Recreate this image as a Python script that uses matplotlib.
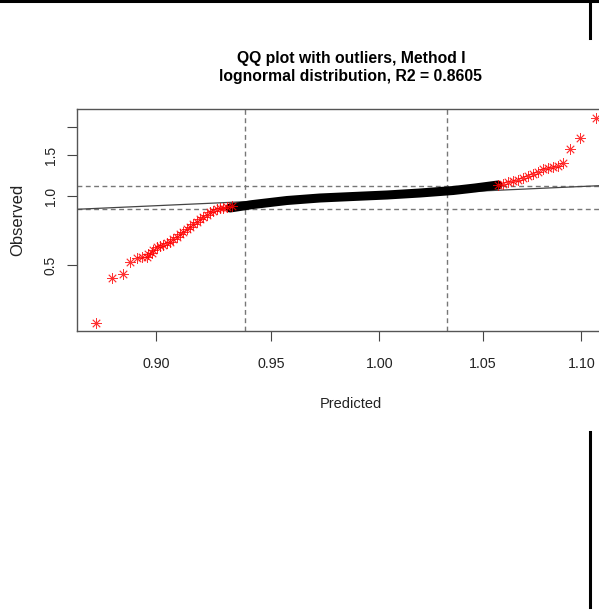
import matplotlib
matplotlib.use("Agg")
import matplotlib.pyplot as plt
from matplotlib.lines import Line2D

plt.rcParams['font.family'] = ['Liberation Sans', 'DejaVu Sans']

# === DATA ===
# lower tail outliers (red)
low_pred = [0.8748, 0.8815, 0.8859, 0.8889, 0.8917, 0.8938, 0.8960, 0.8965,
            0.8981, 0.8988, 0.9002, 0.9016, 0.9030, 0.9045, 0.9059, 0.9073,
            0.9087, 0.9102, 0.9116, 0.9130, 0.9145, 0.9159, 0.9174, 0.9188,
            0.9202, 0.9217, 0.9231, 0.9246, 0.9261, 0.9275, 0.9290, 0.9306,
            0.9326]
low_obs = [0.2800, 0.4391, 0.4584, 0.5184, 0.5396, 0.5450, 0.5450, 0.5599,
           0.5638, 0.5828, 0.6023, 0.6065, 0.6126, 0.6219, 0.6332, 0.6473,
           0.6657, 0.6839, 0.6998, 0.7189, 0.7357, 0.7558, 0.7734, 0.7945,
           0.8130, 0.8311, 0.8496, 0.8650, 0.8781, 0.8869, 0.8896, 0.8958,
           0.9048]

# bulk of the points (black band)
mid_pred = [0.9319, 0.9421, 0.9573, 0.9723, 0.9876, 1.0036, 1.0194, 1.0354,
            1.0462, 1.0576]
mid_obs = [0.8869, 0.9185, 0.9560, 0.9802, 0.9950, 1.0101, 1.0305, 1.0565,
           1.0833, 1.1163]

# upper tail outliers (red)
high_pred = [1.0577, 1.0602, 1.0628, 1.0653, 1.0678, 1.0703, 1.0728, 1.0754,
             1.0779, 1.0805, 1.0830, 1.0856, 1.0881, 1.0904, 1.0942, 1.0993,
             1.1077]
high_obs = [1.1163, 1.1309, 1.1468, 1.1618, 1.1770, 1.1936, 1.2177, 1.2423,
            1.2674, 1.3060, 1.3271, 1.3364, 1.3539, 1.3868, 1.5952, 1.7807,
            2.1881]

# fitted QQ line and outlier cut-offs
qq_line_pred = [0.8668, 1.1093]
qq_line_obs = [0.8755, 1.1085]
cut_pred = [0.9385, 1.0326]
cut_obs = [0.8755, 1.1085]

x_ticks = [0.90, 0.95, 1.00, 1.05, 1.10]
x_ticklabels = ["0.90", "0.95", "1.00", "1.05", "1.10"]
y_ticks = [0.5, 1.0, 1.5, 2.0]
y_ticklabels = ["0.5", "1.0", "1.5", ""]

# === FIGURE ===
W, H = 599, 614
fig = plt.figure(figsize=(W / 100, H / 100), dpi=100)
ax_l, ax_r, ax_t, ax_b = 76.7, 625, 109, 331
ax = fig.add_axes([ax_l / W, 1 - ax_b / H, (ax_r - ax_l) / W, (ax_b - ax_t) / H])
ax.set_xscale('log')
ax.set_yscale('log')
ax.set_xlim(0.86682, 1.12295)
ax.set_ylim(0.25924, 2.38691)

for v in cut_pred:
    ax.axvline(v, color='#777777', lw=1.0, dashes=(3.5, 2.5))
for h in cut_obs:
    ax.axhline(h, color='#777777', lw=1.0, dashes=(3.5, 2.5))

ax.axline((qq_line_pred[0], qq_line_obs[0]), (qq_line_pred[1], qq_line_obs[1]),
          color='#444444', lw=0.9)

ax.plot(mid_pred, mid_obs, color='black', lw=6.5, solid_capstyle='round')

star = (8, 2, 0)
for xs, ys in [(low_pred, low_obs), (high_pred, high_obs)]:
    ax.plot(xs, ys, ls='none', marker=star, ms=7.5, mew=0.6,
            color='#ff0000', alpha=0.8)

ax.set_xticks(x_ticks, x_ticklabels)
ax.set_yticks(y_ticks, y_ticklabels)
ax.minorticks_off()
ax.tick_params(axis='both', direction='out', length=7, width=0.8, colors='#444444')
ax.tick_params(axis='x', pad=11.5, labelsize=10.3, labelcolor='#222222')
ax.tick_params(axis='y', pad=6.5, labelsize=10, labelcolor='#222222', labelrotation=90)
for lab in ax.get_yticklabels():
    lab.set_va('center')

for sp in ax.spines.values():
    sp.set_color('#555555')
    sp.set_linewidth(1.0)

ax.set_xlabel('Predicted', fontsize=10.5, va='center', color='#222222')
ax.xaxis.set_label_coords(0.5, -(404 - ax_b) / (ax_b - ax_t))
ax.set_ylabel('Observed', fontsize=12, va='center', color='#222222')
ax.yaxis.set_label_coords(-(ax_l - 18) / (ax_r - ax_l), 0.5)

ax.set_title('QQ plot with outliers, Method I\nlognormal distribution, R2 = 0.8605',
             fontsize=11.3, fontweight='bold', linespacing=1.3, pad=20)

# stray frame lines around the crop
fig.add_artist(Line2D([0, 1], [1 - 1 / H, 1 - 1 / H], transform=fig.transFigure,
                      color='black', lw=2.2))
fig.add_artist(Line2D([590 / W, 590 / W], [1, 1 - 38 / H], transform=fig.transFigure,
                      color='black', lw=2.2))
fig.add_artist(Line2D([590 / W, 590 / W], [1 - 432 / H, 1 - 607 / H],
                      transform=fig.transFigure, color='black', lw=2.2))

fig.savefig('out.png', dpi=100)
